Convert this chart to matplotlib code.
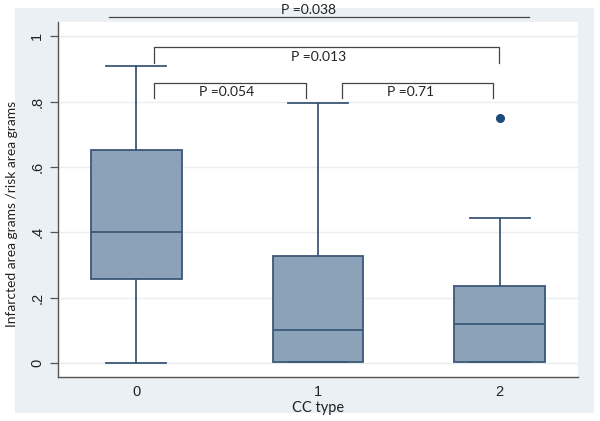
import matplotlib
matplotlib.use("Agg")
import matplotlib.pyplot as plt
from matplotlib.patches import Rectangle

# Box summary per CC type
groups = ["0", "1", "2"]
q1 = [0.257, 0.003, 0.003]
med = [0.40, 0.10, 0.12]
q3 = [0.652, 0.327, 0.235]
whislo = [0.0, 0.003, 0.003]
whishi = [0.909, 0.795, 0.445]
outliers = [[], [], [0.749]]

# P-value brackets: (x_left, x_right, y_bar, y_tick_end, label, text_x, text_y)
brackets = [
    (0.10, 1.995, 0.966, 0.920, "P =0.013", 1.005, 0.937),
    (0.10, 0.934, 0.857, 0.812, "P =0.054", 0.50, 0.830),
    (1.13, 1.960, 0.857, 0.812, "P =0.71", 1.51, 0.830),
]
top_line = (-0.15, 2.16, 1.060, "P =0.038", 0.945, 1.082)

yticks = [0, 0.2, 0.4, 0.6, 0.8, 1.0]
ytick_labels = ["0", ".2", ".4", ".6", ".8", "1"]

EDGE = "#3b5877"
FILL = "#8ca2b9"
BG = "#eaf0f3"
TXT = "#222222"

fig = plt.figure(figsize=(6.0, 4.21), dpi=100, facecolor="white")
fig.patches.append(Rectangle((0.025, 0.019), 0.965, 0.962, transform=fig.transFigure,
                             facecolor=BG, edgecolor="none", zorder=-10))
ax = fig.add_axes([0.0967, 0.1045, 0.8666, 0.8432])
ax.set_facecolor("white")

stats = []
for i, g in enumerate(groups):
    stats.append({"label": g, "q1": q1[i], "med": med[i], "q3": q3[i],
                  "whislo": whislo[i], "whishi": whishi[i], "fliers": outliers[i]})

ax.bxp(stats, positions=range(len(groups)), widths=0.5, capwidths=0.33,
       patch_artist=True, showfliers=True,
       boxprops=dict(facecolor=FILL, edgecolor=EDGE, linewidth=1.3),
       medianprops=dict(color=EDGE, linewidth=1.3),
       whiskerprops=dict(color=EDGE, linewidth=1.3),
       capprops=dict(color=EDGE, linewidth=1.3),
       flierprops=dict(marker="o", markersize=5.5, markerfacecolor="#1d4a78",
                       markeredgecolor="#1d4a78"))

ax.set_xlim(-0.43, 2.43)
ax.set_ylim(-0.043, 1.044)
ax.set_yticks(yticks)
ax.set_yticklabels(ytick_labels, rotation=90, va="center",
                   family="Liberation Sans", fontsize=10.5, color=TXT)
ax.set_xticks(range(len(groups)))
ax.set_xticklabels(groups, family="Liberation Sans", fontsize=10.5, color=TXT)
ax.tick_params(axis="y", length=6, width=0.9, color="#555555", pad=4)
ax.tick_params(axis="x", length=0, pad=6)
ax.grid(axis="y", color="#e8eef1", linewidth=1.0)
ax.set_axisbelow(True)
for s in ["top", "right"]:
    ax.spines[s].set_visible(False)
for s in ["left", "bottom"]:
    ax.spines[s].set_color("#555555")
    ax.spines[s].set_linewidth(1.0)

ax.set_xlabel("CC type", family="Lato", fontsize=10.5, color=TXT, labelpad=1)
ax.set_ylabel("Infarcted area grams /risk area grams", family="Lato", fontsize=10,
              color=TXT)
ax.yaxis.set_label_coords(-0.077, 0.458)

LN = "#444444"
for xl, xr, yb, yt, lab, tx, ty in brackets:
    ax.plot([xl, xl, xr, xr], [yt, yb, yb, yt], color=LN, linewidth=0.9, clip_on=False)
    ax.text(tx, ty, lab, ha="center", va="center", family="Lato", fontsize=10, color=TXT)

xl, xr, yb, lab, tx, ty = top_line
ax.plot([xl, xr], [yb, yb], color=LN, linewidth=0.9, clip_on=False)
ax.text(tx, ty, lab, ha="center", va="center", family="Lato", fontsize=10, color=TXT,
        clip_on=False)

fig.savefig("out.png", dpi=100, facecolor="white")
